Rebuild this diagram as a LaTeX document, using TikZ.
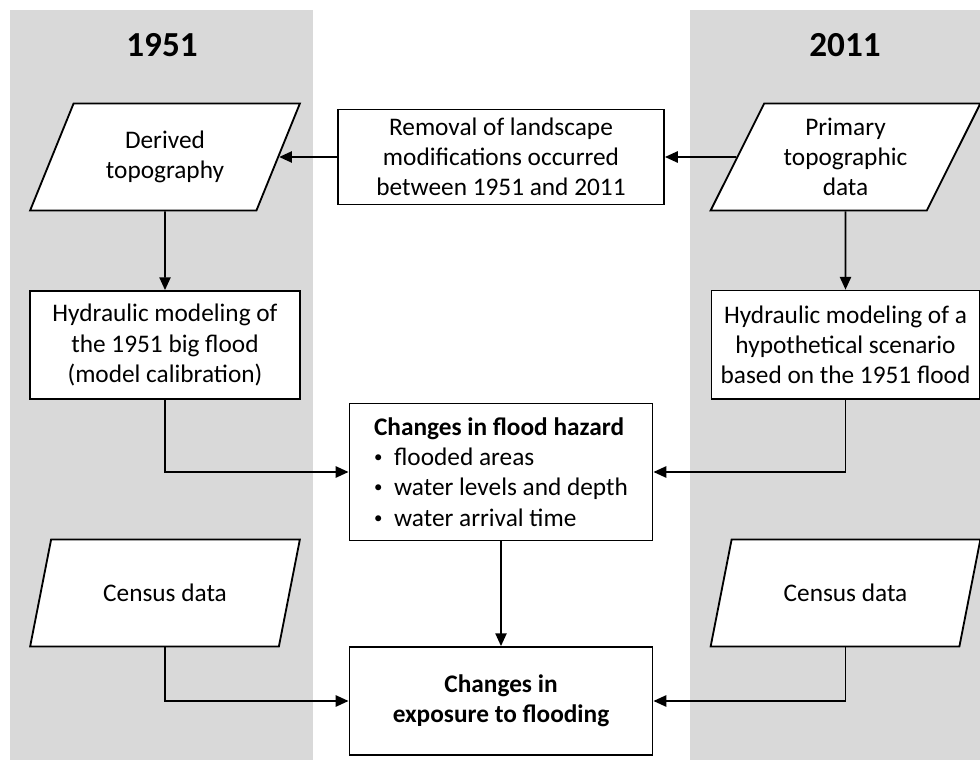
\documentclass[tikz,border=0pt]{standalone}
\usepackage{fontspec}
\setmainfont{Carlito}
\usetikzlibrary{shapes.geometric}
\usetikzlibrary{arrows.meta}
\tikzset{>={Triangle[length=3.2mm,width=2.8mm]}}
\tikzset{
  panel/.style={fill=black!15, draw=none},
  year/.style={font=\fontsize{25}{30}\selectfont\bfseries},
  box/.style={draw, line width=1.3pt, fill=white, align=center, inner sep=2pt,
    font=\fontsize{18}{21.5}\selectfont},
  datain/.style={box, trapezium, trapezium left angle=63, trapezium right angle=117,
    trapezium stretches=true, minimum width=6.75cm, minimum height=2.675cm},
  link/.style={->, line width=1.3pt},
}
\newcommand{\bul}{\makebox[0.5cm][l]{\raisebox{0.25ex}{\fontsize{12}{12}\selectfont\textbullet}}}

\begin{document}
\begin{tikzpicture}[x=0.025cm, y=-0.025cm]
  \useasboundingbox (0,0) rectangle (980,760);
  % grey columns
  \fill[panel] (10,10) rectangle (313,760);
  \fill[panel] (690,10) rectangle (980,760);
  \node[year] (t1951) at (162,45) {1951};
  \node[year] (t2011) at (845,45) {2011};

  % top row
  \node[datain] (derived) at (165,157) {Derived\\topography};
  \node[box, minimum width=8.15cm, minimum height=2.375cm] (removal) at (501,157)
    {Removal of landscape\\modifications occurred\\between 1951 and 2011};
  \node[datain] (primary) at (845.5,157) {Primary\\topographic\\data};

  % modelling
  \node[box, minimum width=6.75cm, minimum height=2.7cm] (hydro1) at (165,345)
    {Hydraulic modeling of\\the 1951 big flood\\(model calibration)};
  \node[box, minimum width=6.7cm, minimum height=2.72cm] (hydro2) at (845.5,345)
    {Hydraulic modeling of a\\hypothetical scenario\\based on the 1951 flood};
  \node[box, align=left, minimum width=7.575cm, minimum height=3.425cm] (hazard) at (501,472)
    {\textbf{Changes in flood hazard}\\ \bul flooded areas\\ \bul water levels and depth\\ \bul water arrival time};

  % exposure
  \node[datain] (census1) at (165,593) {Census data};
  \node[datain] (census2) at (845.5,593) {Census data};
  \node[box, font=\fontsize{18}{21.5}\selectfont\bfseries, minimum width=7.575cm, minimum height=2.7cm]
    (exposure) at (501,701) {Changes in\\exposure to flooding};

  \draw[link] (primary.west) -- (removal.east);
  \draw[link] (removal.west) -- (derived.east);
  \draw[link] (derived) -- (hydro1);
  \draw[link] (primary) -- (hydro2);
  \draw[link] (hydro1) |- (hazard);
  \draw[link] (hydro2) |- (hazard);
  \draw[link] (hazard) -- (exposure);
  \draw[link] (census1) |- (exposure);
  \draw[link] (census2) |- (exposure);
\end{tikzpicture}
\end{document}
